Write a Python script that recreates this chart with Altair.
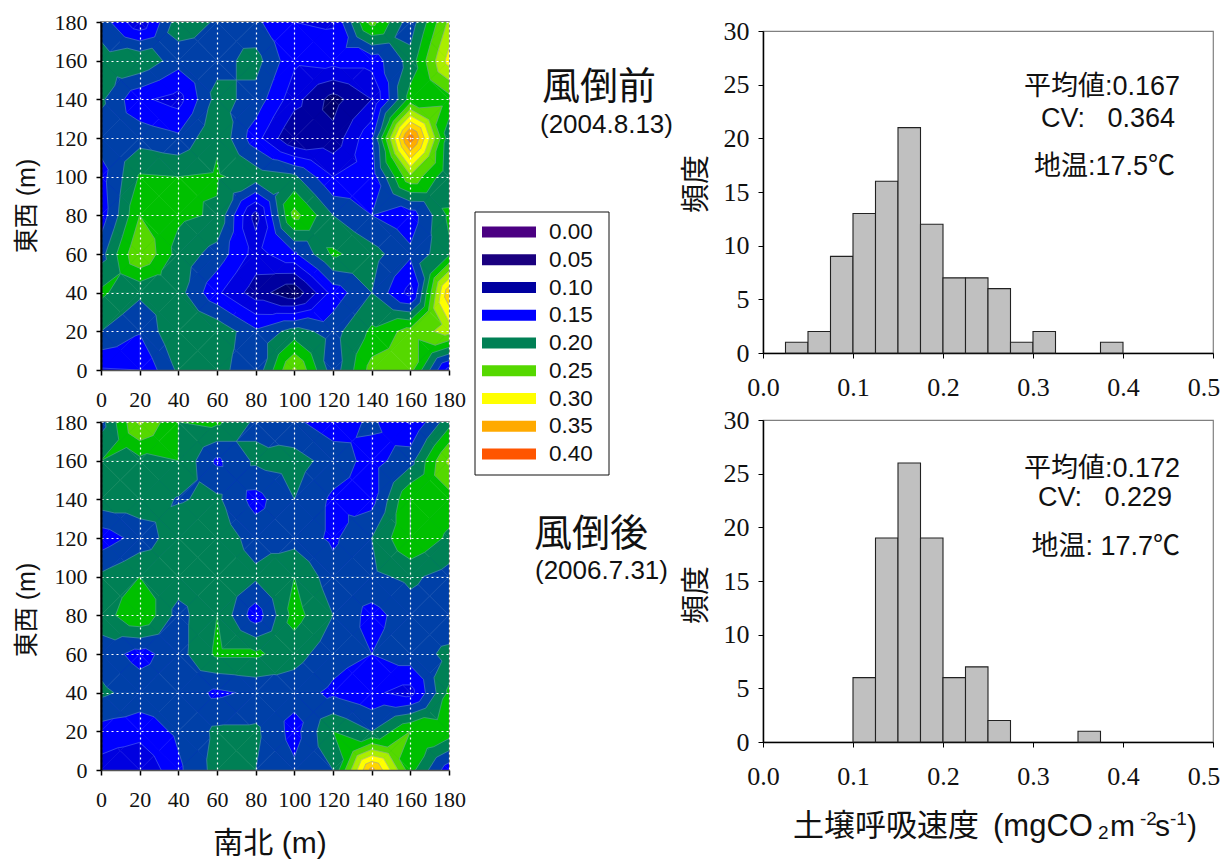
import altair as alt
import pandas as pd

# grid coordinates
xs = list(range(0, 181, 20))
ys = [180, 160, 140, 120, 100, 80, 60, 40, 20, 0]

# soil respiration, rows from north (180) to south (0)
before = [
    [.190, .130, .215, .197, .180, .150, .148, .260, .185, .280],
    [.210, .222, .185, .190, .210, .155, .160, .160, .210, .310],
    [.205, .155, .140, .210, .190, .135, .090, .125, .235, .240],
    [.185, .190, .180, .222, .160, .100, .108, .170, .390, .210],
    [.165, .228, .225, .228, .215, .205, .150, .160, .270, .205],
    [.160, .250, .230, .222, .115, .260, .200, .175, .160, .230],
    [.190, .276, .215, .190, .140, .170, .230, .210, .180, .220],
    [.230, .205, .210, .155, .112, .080, .160, .200, .140, .345],
    [.200, .177, .225, .220, .180, .210, .190, .230, .260, .285],
    [.148, .150, .205, .210, .180, .280, .185, .260, .260, .140],
]
after = [
    [.190, .280, .225, .230, .195, .180, .160, .180, .148, .215],
    [.225, .218, .225, .170, .205, .210, .190, .165, .190, .280],
    [.215, .215, .198, .205, .165, .200, .170, .165, .250, .240],
    [.160, .185, .215, .215, .190, .190, .170, .200, .250, .220],
    [.205, .225, .215, .215, .205, .225, .185, .195, .205, .190],
    [.210, .250, .190, .225, .160, .235, .200, .165, .190, .185],
    [.190, .165, .190, .230, .230, .210, .185, .175, .190, .205],
    [.205, .190, .190, .170, .180, .185, .170, .155, .140, .230],
    [.165, .160, .180, .205, .205, .165, .225, .200, .250, .240],
    [.140, .125, .170, .210, .200, .180, .200, .360, .235, .160],
]

# contour bands
levels = [0, .05, .075, .10, .125, .15, .175, .20, .225, .25, .275, .30, .325, .35, .375, .40]
band_colors = ["#4b0082", "#1a007f", "#00006e", "#0000a0", "#0000e0", "#0000ff", "#0040a8",
               "#008055", "#00c000", "#55d800", "#aaee00", "#ffff00", "#ffd500", "#ffaa00",
               "#ff8000", "#ff5500"]

# legend
legend_labels = ["0.00", "0.05", "0.10", "0.15", "0.20", "0.25", "0.30", "0.35", "0.40"]
legend_colors = ["#4b0082", "#1a007f", "#0000a0", "#0000ff", "#008055", "#55d800", "#ffff00", "#ffaa00", "#ff5500"]

# histograms
bin_starts = [.025, .05, .075, .10, .125, .15, .175, .20, .225, .25, .275, .30, .325, .35, .375]
counts_before = [1, 2, 9, 13, 16, 21, 12, 7, 7, 6, 1, 2, 0, 0, 1]
counts_after = [0, 0, 0, 6, 19, 26, 19, 6, 7, 2, 0, 0, 0, 1, 0]

SERIF = "Liberation Serif"
SANS = "Liberation Sans, Noto Sans CJK JP"
MAP = 348
HW, HH = 450, 322


def contour_tables(grid):
    found, segs = [], []
    sid = 0
    for r in range(len(ys) - 1):
        for c in range(len(xs) - 1):
            cn = [(xs[c], ys[r], grid[r][c]), (xs[c + 1], ys[r], grid[r][c + 1]),
                  (xs[c + 1], ys[r + 1], grid[r + 1][c + 1]), (xs[c], ys[r + 1], grid[r + 1][c])]
            centre = (sum(k[0] for k in cn) / 4, sum(k[1] for k in cn) / 4, sum(k[2] for k in cn) / 4)
            for q in range(4):
                tri = [cn[q], cn[(q + 1) % 4], centre]
                for i, lv in enumerate(levels):
                    nxt = levels[i + 1] if i + 1 < len(levels) else 9
                    if max(k[2] for k in tri) < lv or min(k[2] for k in tri) >= nxt:
                        continue
                    pts, cross = [], []
                    for k in range(3):
                        a, b = tri[k], tri[(k + 1) % 3]
                        if a[2] >= lv:
                            pts.append((a[0], a[1]))
                        if (a[2] >= lv) != (b[2] >= lv):
                            t = (lv - a[2]) / (b[2] - a[2])
                            p = (a[0] + t * (b[0] - a[0]), a[1] + t * (b[1] - a[1]))
                            pts.append(p)
                            cross.append(p)
                    found.append((i, pts))
                    if len(cross) == 2:
                        for m in range(2):
                            segs.append(dict(x=cross[m][0], y=cross[m][1], sid=sid, seq=m))
                        sid += 1
    found.sort(key=lambda f: f[0])
    polys = []
    for pid, (i, pts) in enumerate(found):
        for n, p in enumerate(pts + pts[:1]):
            polys.append(dict(x=round(p[0], 3), y=round(p[1], 3), pid=pid, lvl=i, seq=n))
    return pd.DataFrame(polys), pd.DataFrame(segs)


def txt(s, x, y, size, font=SANS, angle=0, align="left", weight="normal"):
    return alt.Chart(alt.Data(values=[{}])).mark_text(
        x=x, y=y, font=font, fontSize=size, angle=angle, align=align, baseline="middle",
        color="#111", fontWeight=weight, clip=False
    ).encode(text=alt.value(s))


def map_panel(grid, extra):
    polys, segs = contour_tables(grid)
    sx = alt.Scale(domain=[0, 180], nice=False)
    sy = alt.Scale(domain=[0, 180], nice=False)
    col = alt.Scale(domain=list(range(len(levels))), range=band_colors)
    xa = alt.Axis(values=xs, title=None, grid=True, gridColor="#ffffff", gridDash=[2, 3], gridWidth=1.2,
                  zindex=1, labelFont=SERIF, labelFontSize=22, labelColor="#111", labelPadding=14,
                  tickColor="#000", tickSize=5, tickWidth=1.5, domainColor="#555", domainWidth=1.5,
                  labelFlush=False, labelOverlap=False)
    ya = alt.Axis(values=xs, title=None, grid=True, gridColor="#ffffff", gridDash=[2, 3], gridWidth=1.2,
                  zindex=1, labelFont=SERIF, labelFontSize=22, labelColor="#111", labelPadding=9,
                  tickColor="#000", tickSize=5, tickWidth=1.5, domainColor="#000", domainWidth=2,
                  labelFlush=False, labelOverlap=False)
    fills = alt.Chart(polys).mark_line(strokeWidth=0.5, interpolate="linear", clip=True).encode(
        x=alt.X("x:Q", scale=sx, axis=xa),
        y=alt.Y("y:Q", scale=sy, axis=ya),
        fill=alt.Fill("lvl:O", scale=col, legend=None),
        stroke=alt.Stroke("lvl:O", scale=col, legend=None),
        detail="pid:N",
        order=alt.Order("seq:Q"),
    )
    lines = alt.Chart(segs).mark_line(strokeWidth=0.6, stroke="#6f8fe0", opacity=0.75, clip=True).encode(
        x=alt.X("x:Q", scale=sx, axis=xa), y=alt.Y("y:Q", scale=sy, axis=ya),
        detail="sid:N", order=alt.Order("seq:Q")
    )
    return alt.layer(fills, lines, *extra).properties(
        width=MAP, height=MAP, view=alt.ViewBackground(stroke="#666", strokeWidth=1.5)
    )


def hist_panel(counts, extra):
    df = pd.DataFrame(dict(a=bin_starts, c=counts))
    df = df[df.c > 0]
    df["b"] = df.a + .025
    df["zero"] = 0
    bars = alt.Chart(df).mark_rect(color="#c0c0c0", stroke="#222", strokeWidth=1.1).encode(
        x=alt.X("a:Q", scale=alt.Scale(domain=[0, .5], nice=False),
                axis=alt.Axis(values=[0, .1, .2, .3, .4, .5], title=None, grid=False,
                              labelExpr="datum.value > 0.45 ? '' : format(datum.value, '.1f')",
                              labelFont=SERIF, labelFontSize=26, labelColor="#111", labelPadding=16,
                              tickColor="#000", tickSize=5, domainColor="#000", domainWidth=1.5,
                              labelFlush=False)),
        x2="b:Q",
        y=alt.Y("c:Q", scale=alt.Scale(domain=[0, 30], nice=False),
                axis=alt.Axis(values=[0, 5, 10, 15, 20, 25, 30], title=None, grid=False,
                              labelFont=SERIF, labelFontSize=26, labelColor="#111", labelPadding=9,
                              tickColor="#000", tickSize=5, domainColor="#000", domainWidth=1.5,
                              labelFlush=False)),
        y2="zero:Q",
    )
    return alt.layer(bars, *extra).properties(
        width=HW, height=HH, view=alt.ViewBackground(stroke="#808080", strokeWidth=1.2)
    )


map1 = map_panel(before, [txt("東西 (m)", -74, 184, 25, angle=270, align="center")])
map2 = map_panel(after, [txt("東西 (m)", -74, 188, 25, angle=270, align="center"),
                         txt("南北 (m)", 169, 422, 30, align="center")])
left = alt.vconcat(map1, map2, spacing=52, bounds="flush")

box = alt.Chart(alt.Data(values=[{}])).mark_rect(fill="white", stroke="#111", strokeWidth=1).encode(
    x=alt.value(7), x2=alt.value(141), y=alt.value(190), y2=alt.value(453))
leg_df = pd.DataFrame(dict(label=legend_labels))
leg_y = alt.Y("label:N", scale=alt.Scale(type="point", domain=legend_labels, range=[210, 432], padding=0), axis=None)
swatch = alt.Chart(leg_df).mark_rule(strokeWidth=11).encode(
    x=alt.value(14), x2=alt.value(68), y=leg_y,
    color=alt.Color("label:N", scale=alt.Scale(domain=legend_labels, range=legend_colors), legend=None))
leg_txt = alt.Chart(leg_df).mark_text(align="left", baseline="middle", font="Liberation Sans", fontSize=22.5, color="#111").encode(
    x=alt.value(81), y=leg_y, text="label:N")
mid = alt.layer(
    box, swatch, leg_txt,
    txt("風倒前", 74, 66, 38),
    txt("(2004.8.13)", 72, 103, 26),
    txt("風倒後", 66, 513, 38),
    txt("(2006.7.31)", 67, 549, 26),
).properties(width=213, height=580, view=alt.ViewBackground(stroke="transparent"))

h1 = hist_panel(counts_before, [
    txt("0.5", 441, 357, 26, font=SERIF, align="center"),
    txt("頻度", -66, 153, 29, angle=270, align="center"),
    txt("平均値:0.167", 417, 56, 27, align="right"),
    txt("CV:\u00a0\u00a0\u00a00.364", 412, 88, 27, align="right"),
    txt("地温:17.5℃", 412, 136, 27, align="right"),
])
h2 = hist_panel(counts_after, [
    txt("0.5", 441, 357, 26, font=SERIF, align="center"),
    txt("頻度", -66, 175, 29, angle=270, align="center"),
    txt("平均値:0.172", 417, 49, 27, align="right"),
    txt("CV:\u00a0\u00a0\u00a00.229", 409, 78, 27, align="right"),
    txt("地温: 17.7℃", 417, 127, 27, align="right"),
    txt("土壌呼吸速度", 30, 407, 31),
    txt("(mgCO", 230, 407, 31),
    txt("2", 335, 413, 19),
    txt("m", 347, 407, 30),
    txt("-2", 377, 399, 19),
    txt("s", 392, 407, 30),
    txt("-1", 407, 399, 19),
    txt(")", 424, 407, 30),
])


def spacer(h):
    return alt.Chart(alt.Data(values=[{}])).mark_text().encode(text=alt.value("")).properties(
        width=HW, height=h, view=alt.ViewBackground(stroke="transparent"))


right = alt.vconcat(spacer(1), h1, spacer(51), h2, spacing=8, bounds="flush")

chart = alt.hconcat(left, mid, right, spacing=0).properties(
    padding=dict(left=6, top=2, right=0, bottom=0)
).configure_axis(labelOverlap=False)

chart.save("out.html", embed_options={"renderer": "svg", "actions": False})
